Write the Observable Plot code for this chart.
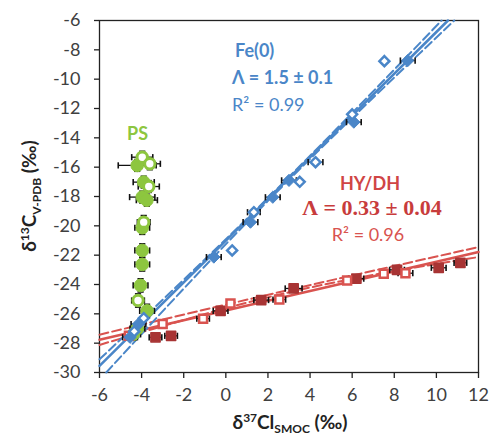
<!DOCTYPE html>
<html>
<head>
<meta charset="utf-8">
<script src="https://cdn.jsdelivr.net/npm/d3@7"></script>
<script src="https://cdn.jsdelivr.net/npm/@observablehq/plot@0.6"></script>
<style>
  html, body { margin: 0; padding: 0; background: #fff; }
  #chart { width: 492px; height: 439px; }
</style>
</head>
<body>
<div id="chart"></div>
<script>
// ---- Tick labels ----
const xTicks = [-6, -4, -2, 0, 2, 4, 6, 8, 10, 12];
const xTickLabels = ["-6", "-4", "-2", "0", "2", "4", "6", "8", "10", "12"];
const yTicks = [-30, -28, -26, -24, -22, -20, -18, -16, -14, -12, -10, -8, -6];
const yTickLabels = ["-30", "-28", "-26", "-24", "-22", "-20", "-18", "-16", "-14", "-12", "-10", "-8", "-6"];

// ---- Fe(0) (blue) ----
const feFilledX = [-4.55, -4.15, -0.57, 1.17, 2.23, 3.0, 6.08, 8.64];
const feFilledY = [-27.6, -26.7, -22.13, -19.75, -18.05, -16.9, -12.93, -8.73];
const feFilledXErr = [0.35, 0.35, 0.35, 0.35, 0.35, 0.35, 0.35, 0.35];
const feOpenX = [-4.35, -3.9, 0.3, 1.33, 3.51, 4.26, 6.0, 7.53];
const feOpenY = [-27.2, -26.3, -21.68, -19.07, -17.0, -15.66, -12.4, -8.77];
const feOpenXErr = [0, 0, 0, 0.3, 0, 0.35, 0, 0];

// ---- HY/DH (red) ----
const hyFilledX = [-3.34, -2.6, -0.25, 1.68, 3.22, 6.2, 8.13, 10.11, 11.14];
const hyFilledY = [-27.6, -27.5, -25.8, -25.06, -24.27, -23.6, -23.0, -22.86, -22.52];
const hyFilledXErr = [0.3, 0.3, 0.35, 0.35, 0.4, 0.35, 0.35, 0.35, 0.3];
const hyOpenX = [-4.6, -3.0, -1.08, 0.22, 2.54, 5.76, 7.5, 8.53];
const hyOpenY = [-27.5, -26.7, -26.33, -25.3, -25.03, -23.72, -23.27, -23.23];
const hyOpenXErr = [0, 0, 0.3, 0, 0.3, 0, 0, 0.35];

// ---- PS (green) ----
const psFilledX = [-4.21, -3.9, -3.97, -3.75, -3.97, -3.97, -3.97, -4.05, -3.74, -4.2, -4.4];
const psFilledY = [-15.88, -17.02, -18.04, -18.25, -20.13, -21.68, -22.63, -24.06, -25.8, -27.0, -27.4];
const psFilledXErr = [0.9, 0.5, 0.6, 0.5, 0.35, 0.35, 0.35, 0.35, 0.35, 0.35, 0.35];
const psFilledYErr = [0.4, 0.4, 0.4, 0.4, 0.45, 0.45, 0.45, 0.45, 0.45, 0.4, 0.4];
const psOpenX = [-3.97, -3.61, -3.66, -3.9, -4.17];
const psOpenY = [-15.32, -15.77, -17.32, -19.75, -25.09];
const psOpenXErr = [0.5, 0.5, 0.5, 0.3, 0.3];
const psOpenYErr = [0.4, 0.4, 0.4, 0.45, 0.45];

// ---- Regression lines and confidence bands ----
const feLineX = [-6, 10.55];
const feLineY = [-29.55, -6];
const feUpperX = [-6, 2, 10.25];
const feUpperY = [-29.1, -18.1, -6];
const feLowerX = [-5.68, 2, 10.85];
const feLowerY = [-30, -18.3, -6];

const hyLineX = [-6, 12];
const hyLineY = [-27.77, -21.79];
const hyUpperX = [-6, 3, 12];
const hyUpperY = [-27.42, -24.37, -21.45];
const hyLowerX = [-6, 3, 12];
const hyLowerY = [-28.12, -24.53, -22.13];

// ---- Build tables ----
const pts = (xs, ys, xe, ye) => xs.map((x, i) => ({x, y: ys[i], xe: xe ? xe[i] : 0, ye: ye ? ye[i] : 0}));
const feFilled = pts(feFilledX, feFilledY, feFilledXErr);
const feOpen = pts(feOpenX, feOpenY, feOpenXErr);
const hyFilled = pts(hyFilledX, hyFilledY, hyFilledXErr);
const hyOpen = pts(hyOpenX, hyOpenY, hyOpenXErr);
const psFilled = pts(psFilledX, psFilledY, psFilledXErr, psFilledYErr);
const psOpen = pts(psOpenX, psOpenY, psOpenXErr, psOpenYErr);
const line = (xs, ys) => xs.map((x, i) => ({x, y: ys[i]}));

const BLUE = "#4a86c8";
const RED = "#d9534f";
const DARKRED = "#a83434";
const GREEN = "#8dc63f";

const vbar = {draw(ctx, size) { const h = Math.sqrt(size) / 2; ctx.moveTo(0, -h); ctx.lineTo(0, h); }};
const hbar = {draw(ctx, size) { const w = Math.sqrt(size) / 2; ctx.moveTo(-w, 0); ctx.lineTo(w, 0); }};

function xErrMarks(data) {
  const d = data.filter(p => p.xe > 0);
  return [
    Plot.link(d, {x1: p => p.x - p.xe, x2: p => p.x + p.xe, y1: "y", y2: "y", stroke: "#111", strokeWidth: 1.3}),
    Plot.dot(d, {x: p => p.x - p.xe, y: "y", symbol: vbar, r: 3.5, fill: "none", stroke: "#111", strokeWidth: 1.6}),
    Plot.dot(d, {x: p => p.x + p.xe, y: "y", symbol: vbar, r: 3.5, fill: "none", stroke: "#111", strokeWidth: 1.6})
  ];
}
function yErrMarks(data) {
  const d = data.filter(p => p.ye > 0);
  return [
    Plot.link(d, {x1: "x", x2: "x", y1: p => p.y - p.ye, y2: p => p.y + p.ye, stroke: "#111", strokeWidth: 1.3}),
    Plot.dot(d, {x: "x", y: p => p.y - p.ye, symbol: hbar, r: 3.5, fill: "none", stroke: "#111", strokeWidth: 1.6}),
    Plot.dot(d, {x: "x", y: p => p.y + p.ye, symbol: hbar, r: 3.5, fill: "none", stroke: "#111", strokeWidth: 1.6})
  ];
}

const chart = Plot.plot({
  width: 492,
  height: 439,
  marginLeft: 99,
  marginRight: 14,
  marginTop: 20,
  marginBottom: 67,
  style: {fontFamily: "Lato, sans-serif", fontSize: "18px", color: "#404040", background: "#fff", overflow: "visible"},
  x: {domain: [-6, 12]},
  y: {domain: [-30, -6]},
  marks: [
    Plot.axisX({ticks: xTicks, tickFormat: (d, i) => xTickLabels[i], tickSize: 6, tickPadding: 10, label: null, stroke: "#222", strokeWidth: 1.3}),
    Plot.axisY({ticks: yTicks, tickFormat: (d, i) => yTickLabels[i], tickSize: 5, tickPadding: 14, label: null, stroke: "#222", strokeWidth: 1.3}),
    Plot.frame({stroke: "#222", strokeWidth: 1.3}),
    // red regression + CI
    Plot.line(line(hyUpperX, hyUpperY), {x: "x", y: "y", stroke: RED, strokeWidth: 2, strokeDasharray: "9,4", curve: "natural"}),
    Plot.line(line(hyLowerX, hyLowerY), {x: "x", y: "y", stroke: RED, strokeWidth: 2, strokeDasharray: "9,4", curve: "natural"}),
    Plot.line(line(hyLineX, hyLineY), {x: "x", y: "y", stroke: RED, strokeWidth: 2.5}),
    // blue regression + CI
    Plot.line(line(feUpperX, feUpperY), {x: "x", y: "y", stroke: BLUE, strokeWidth: 2, strokeDasharray: "9,4", curve: "natural"}),
    Plot.line(line(feLowerX, feLowerY), {x: "x", y: "y", stroke: BLUE, strokeWidth: 2, strokeDasharray: "9,4", curve: "natural"}),
    Plot.line(line(feLineX, feLineY), {x: "x", y: "y", stroke: BLUE, strokeWidth: 2.5}),
    // error bars
    ...xErrMarks(psFilled), ...yErrMarks(psFilled),
    ...xErrMarks(psOpen), ...yErrMarks(psOpen),
    ...xErrMarks(hyFilled), ...xErrMarks(hyOpen),
    ...xErrMarks(feFilled), ...xErrMarks(feOpen),
    // markers
    Plot.dot(psFilled, {x: "x", y: "y", r: 6.3, fill: GREEN, stroke: GREEN, strokeWidth: 1}),
    Plot.dot(psOpen, {x: "x", y: "y", r: 5.2, fill: "#fff", stroke: GREEN, strokeWidth: 3}),
    Plot.dot(hyFilled, {x: "x", y: "y", symbol: "square", r: 5.2, fill: DARKRED, stroke: DARKRED, strokeWidth: 1.5, strokeLinejoin: "round"}),
    Plot.dot(hyOpen, {x: "x", y: "y", symbol: "square", r: 4.5, fill: "#fff", stroke: RED, strokeWidth: 2.5}),
    Plot.dot(feFilled, {x: "x", y: "y", symbol: "diamond2", r: 5.5, fill: BLUE, stroke: BLUE, strokeWidth: 1}),
    Plot.dot(feOpen, {x: "x", y: "y", symbol: "diamond2", r: 4.5, fill: "#fff", stroke: BLUE, strokeWidth: 2.5})
  ]
});

document.getElementById("chart").appendChild(chart);

// ---- Axis titles and annotations ----
const svg = d3.select(chart);
const font = "Lato, sans-serif";

// y title (rotated)
const yt = svg.append("text")
  .attr("transform", "translate(36,196) rotate(-90)")
  .attr("text-anchor", "middle")
  .attr("font-family", font).attr("font-weight", "bold").attr("font-size", 19).attr("fill", "#222");
yt.append("tspan").text("δ");
yt.append("tspan").attr("font-size", 12).attr("dy", -7).text("13");
yt.append("tspan").attr("dy", 7).text("C");
yt.append("tspan").attr("font-size", 12).attr("dy", 5).text("V-PDB");
yt.append("tspan").attr("dy", -5).text(" (‰)");

// x title
const xt = svg.append("text")
  .attr("x", 290).attr("y", 429)
  .attr("text-anchor", "middle")
  .attr("font-family", font).attr("font-weight", "bold").attr("font-size", 19).attr("fill", "#222");
xt.append("tspan").text("δ");
xt.append("tspan").attr("font-size", 12).attr("dy", -7).text("37");
xt.append("tspan").attr("dy", 7).text("Cl");
xt.append("tspan").attr("font-size", 12).attr("dy", 4).text("SMOC");
xt.append("tspan").attr("dy", -4).text(" (‰)");

function ann(x, y, txt, color, weight, anchor, family, size) {
  return svg.append("text").attr("x", x).attr("y", y)
    .attr("text-anchor", anchor || "start")
    .attr("font-family", family || font).attr("font-weight", weight)
    .attr("font-size", size || 18).attr("fill", color).text(txt);
}
ann(235, 57, "Fe(0)", BLUE, "bold");
ann(232, 84, "Λ = 1.5 ± 0.1", BLUE, "bold");
ann(232, 111, "R² = 0.99", BLUE, "normal");
ann(127, 140, "PS", GREEN, "bold");
ann(370, 190, "HY/DH", "#d04545", "bold", "middle");
ann(372, 215, "Λ = 0.33 ± 0.04", "#c83c3c", "bold", "middle", "'Liberation Serif', serif", 22);
ann(368, 241, "R² = 0.96", RED, "normal", "middle");
</script>
</body>
</html>
